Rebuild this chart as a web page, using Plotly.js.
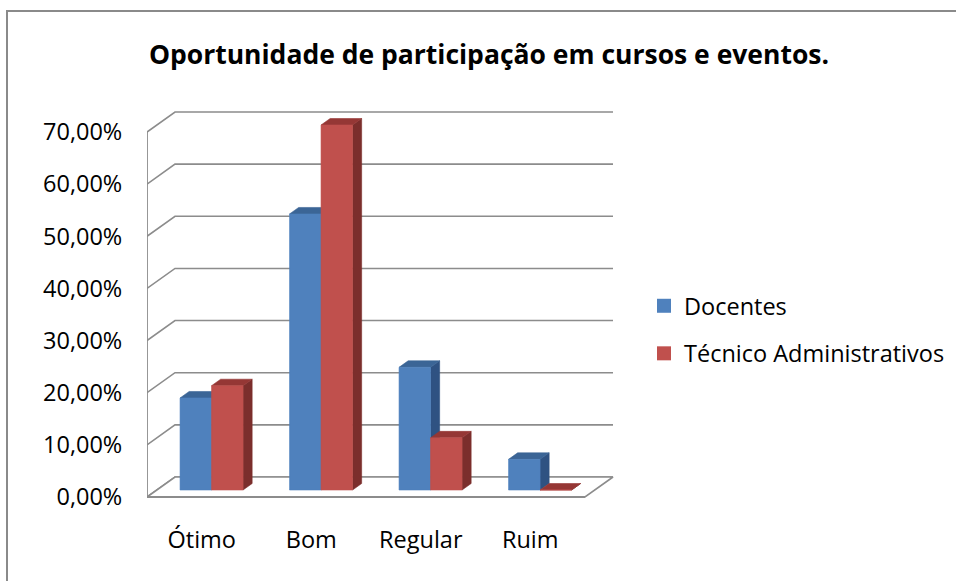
<!DOCTYPE html>
<html>
<head>
<meta charset="utf-8">
<script src="https://cdn.plot.ly/plotly-3.0.1.min.js"></script>
<style>
  html, body { margin: 0; padding: 0; background: #fff; }
  #wrap { position: relative; width: 956px; height: 581px; overflow: hidden; }
  #chart { position: absolute; left: 0; top: 0; width: 956px; height: 581px; }
  #frame { position: absolute; left: 6px; top: 10px; width: 1000px; height: 700px;
           border: 2px solid #8a8a8a; pointer-events: none; box-sizing: border-box; }
</style>
</head>
<body>
<div id="wrap">
  <div id="chart"></div>
  <div id="frame"></div>
</div>
<script>
// ---- data ----
const categories = ["Ótimo", "Bom", "Regular", "Ruim"];
const seriesNames = ["Docentes", "Técnico Administrativos"];
const docentes = [0.1765, 0.5294, 0.2353, 0.0588];
const tecnicos = [0.20, 0.70, 0.10, 0.00];
const yTicks = [0, 0.1, 0.2, 0.3, 0.4, 0.5, 0.6, 0.7];

// ---- style / geometry ----
const W = 956, H = 581;
const M = { l: 147, r: 336, t: 100, b: 58 };
const plotW = W - M.l - M.r, plotH = H - M.t - M.b;
const CAT_PX = 109.5;                 // width of one category on the floor
const PX_PER_UNIT_Y = 365 / 0.7;      // pixels per 100%
const yMax = 0.7 + 32 / PX_PER_UNIT_Y;
const yMin = -(plotH - (497 - M.t)) / PX_PER_UNIT_Y;
const xMax = plotW / CAT_PX;
const DX = 28 / CAT_PX;               // depth offset (x units)
const DY = 20 / PX_PER_UNIT_Y;        // depth offset (y units)
const BW = 31.5 / CAT_PX;             // bar front width
const ZF = 0.35, ZB = 0.675;          // bar front/back depth
const nCat = categories.length;
const yTop = yTicks[yTicks.length - 1];

const gridColor = "#8c8c8c";
const colors = [
  { front: "#4F81BD", top: "#3B6596", side: "#2F5282" },
  { front: "#C0504D", top: "#953735", side: "#7B2E2C" }
];

const traces = [];

// back wall + left wall gridlines
const gx = [], gy = [];
yTicks.forEach(t => {
  gx.push(0, DX, nCat + DX, null);
  gy.push(t, t + DY, t + DY, null);
});
traces.push({ x: gx, y: gy, mode: "lines", line: { color: gridColor, width: 1.6 },
  hoverinfo: "skip", showlegend: false });

// floor
traces.push({ x: [0, nCat, nCat + DX, DX, 0], y: [0, 0, DY, DY, 0], mode: "lines",
  fill: "toself", fillcolor: "#ffffff", line: { color: gridColor, width: 1.6 },
  hoverinfo: "skip", showlegend: false });
traces.push({ x: [0, nCat], y: [0, 0], mode: "lines", line: { color: gridColor, width: 2.2 },
  hoverinfo: "skip", showlegend: false });
// front vertical axis line
traces.push({ x: [0, 0], y: [0, yTop], mode: "lines", line: { color: gridColor, width: 1.8 },
  hoverinfo: "skip", showlegend: false });

// bars
const allSeries = [docentes, tecnicos];
allSeries.forEach((vals, s) => {
  const face = { front: { x: [], y: [] }, top: { x: [], y: [] }, side: { x: [], y: [] } };
  const dd = ZB - ZF;
  vals.forEach((v, i) => {
    const xc = i + 0.5 + ZF * DX;
    const xl = s === 0 ? xc - BW : xc;
    const xr = xl + BW;
    const b0 = ZF * DY, b1 = ZB * DY;
    face.side.x.push(xr, xr, xr + dd * DX, xr + dd * DX, xr, null);
    face.side.y.push(b0, v + b0, v + b1, b1, b0, null);
    face.top.x.push(xl, xr, xr + dd * DX, xl + dd * DX, xl, null);
    face.top.y.push(v + b0, v + b0, v + b1, v + b1, v + b0, null);
    face.front.x.push(xl, xr, xr, xl, xl, null);
    face.front.y.push(b0, b0, v + b0, v + b0, b0, null);
  });
  ["side", "top", "front"].forEach(f => {
    traces.push({ x: face[f].x, y: face[f].y, mode: "lines", fill: "toself",
      fillcolor: colors[s][f], line: { color: colors[s][f], width: 0.6 },
      hoverinfo: "skip", showlegend: false });
  });
});

// legend entries
seriesNames.forEach((name, s) => {
  traces.push({ x: [null], y: [null], type: "scatter", mode: "markers", name: name,
    legendgroup: "g" + s,
    marker: { symbol: "square", size: 14, color: colors[s].front } });
});

const font = { family: "Open Sans, Noto Sans, sans-serif", color: "#000" };

const layout = {
  width: W, height: H,
  margin: M,
  paper_bgcolor: "rgba(0,0,0,0)",
  plot_bgcolor: "rgba(0,0,0,0)",
  separators: ",.",
  font: Object.assign({ size: 24 }, font),
  title: {
    text: "<b>Oportunidade de participação em cursos e eventos.</b>",
    font: Object.assign({ size: 26.5 }, font),
    xref: "container", yref: "container",
    x: 489 / W, y: 1 - 55 / H, xanchor: "center", yanchor: "middle"
  },
  xaxis: {
    range: [0, xMax], showgrid: false, zeroline: false, showline: false,
    tickvals: categories.map((c, i) => i + 0.5), ticktext: categories,
    ticks: "", tickfont: Object.assign({ size: 23.5 }, font), fixedrange: true
  },
  yaxis: {
    range: [yMin, yMax], showgrid: false, zeroline: false, showline: false,
    tickvals: yTicks, tickformat: ".2%",
    ticks: "outside", ticklen: 19, tickcolor: "rgba(0,0,0,0)",
    tickfont: Object.assign({ size: 23.5 }, font), fixedrange: true
  },
  showlegend: true,
  legend: {
    xref: "container", yref: "container",
    x: 644 / W, y: 1 - 330 / H, xanchor: "left", yanchor: "middle",
    font: Object.assign({ size: 23.5 }, font),
    tracegroupgap: 14, bgcolor: "rgba(0,0,0,0)", borderwidth: 0
  }
};

Plotly.newPlot("chart", traces, layout, { displayModeBar: false, staticPlot: true });
</script>
</body>
</html>
